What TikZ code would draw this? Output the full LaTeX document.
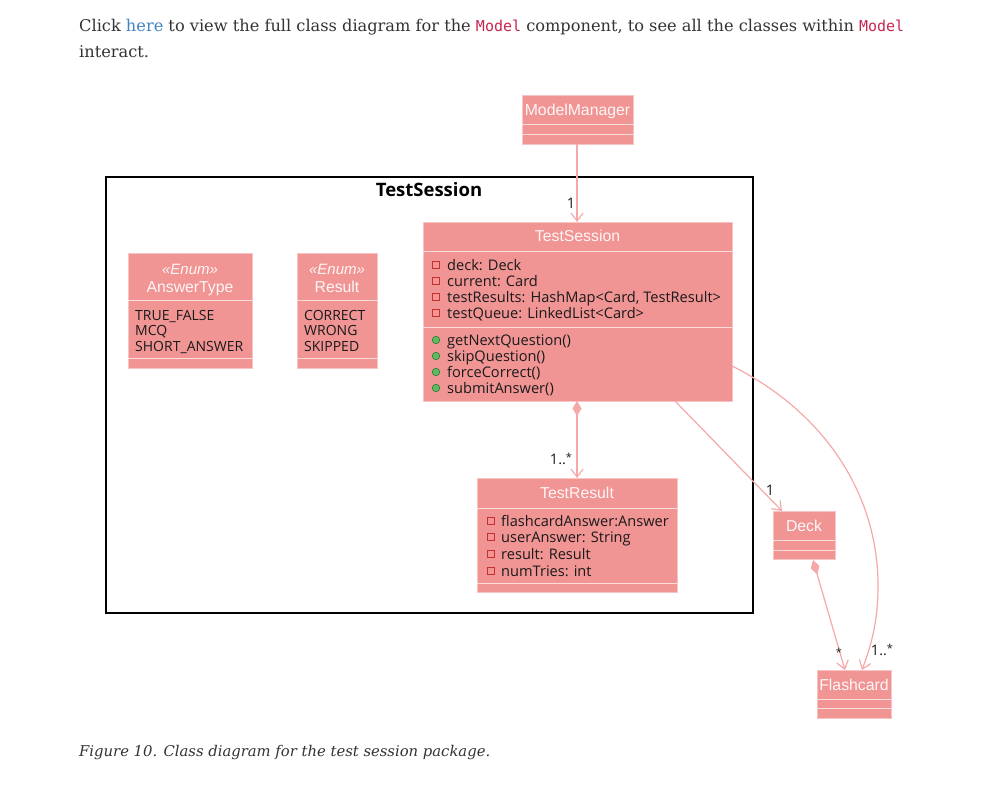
\documentclass[tikz,border=0pt]{standalone}
\usepackage{fontspec}
\setmainfont{DejaVu Serif}
\setmonofont{DejaVu Sans Mono}
\newfontfamily\hdrfont{Liberation Sans}
\newfontfamily\memfont{Open Sans}
\usetikzlibrary{arrows.meta}
\definecolor{clsfill}{HTML}{F09494}
\definecolor{clsborder}{HTML}{F7C4C4}
\definecolor{clssep}{HTML}{FCDCDC}
\definecolor{arrowc}{HTML}{F4A8A8}
\definecolor{privc}{HTML}{C63030}
\definecolor{pubfill}{HTML}{5DBB63}
\definecolor{publine}{HTML}{2E7D32}
\definecolor{linkblue}{HTML}{4183C4}
\definecolor{codered}{HTML}{C7254E}
\definecolor{bodytext}{HTML}{333333}
\definecolor{memtext}{HTML}{1A1A1A}
\tikzset{
  x=1pt, y=-1pt,
  clsbox/.style={draw=clsborder, fill=clsfill, line width=0.8pt, inner sep=0pt, anchor=north west},
  sepline/.style={draw=clssep, line width=1pt},
  hdr/.style={text=white!92!clsfill, font=\hdrfont\fontsize{15.8}{18}\selectfont, anchor=base, inner sep=0pt},
  stereo/.style={text=white!92!clsfill, font=\hdrfont\itshape\fontsize{15}{17}\selectfont, anchor=base, inner sep=0pt},
  mem/.style={text=memtext, font=\memfont\fontsize{14.6}{16}\selectfont, anchor=base west, inner sep=0pt},
  enumitem/.style={text=memtext, font=\memfont\fontsize{14}{16}\selectfont, anchor=base west, inner sep=0pt},
  privicon/.style={draw=privc, line width=0.8pt, minimum size=7.5pt, inner sep=0pt},
  pubicon/.style={draw=publine, fill=pubfill, circle, line width=0.6pt, minimum size=7.5pt, inner sep=0pt},
  conn/.style={draw=arrowc, line width=1.2pt},
  openarrow/.style={-{Straight Barb[length=8pt,width=12pt,line width=1.2pt]}},
  diamondarrow/.style={{Diamond[length=15pt,width=9pt]}-{Straight Barb[length=8pt,width=12pt,line width=1.2pt]}},
  mult/.style={text=memtext, font=\memfont\fontsize{14.5}{16}\selectfont, anchor=base, inner sep=0pt},
  pkgbox/.style={draw=black, line width=1.3pt},
  pkgtitle/.style={font=\memfont\bfseries\fontsize{18.5}{20}\selectfont, anchor=base, inner sep=0pt}
}
\begin{document}
\begin{tikzpicture}
\useasboundingbox (0,0) rectangle (989,787);
% top paragraph
\node[anchor=base west, inner sep=0pt, text=bodytext, font=\fontsize{16.2}{20}\selectfont] (para1) at (79,31)
  {Click \textcolor{linkblue}{here} to view the full class diagram for the {\ttfamily\fontsize{15}{18}\selectfont\textcolor{codered}{Model}} component, to see all the classes within {\ttfamily\fontsize{15}{18}\selectfont\textcolor{codered}{Model}}};
\node[anchor=base west, inner sep=0pt, text=bodytext, font=\fontsize{16.2}{20}\selectfont] (para2) at (79,57) {interact.};

% package frame
\draw[pkgbox] (106,177) rectangle (753,613);
\node[pkgtitle] (pkgt) at (429,196) {TestSession};

% ModelManager
\node[clsbox, minimum width=111pt, minimum height=49pt] (mm) at (522,95) {};
\draw[sepline] (522,124) -- (633,124);
\draw[sepline] (522,134) -- (633,134);
\node[hdr] (mmname) at (577.5,115) {ModelManager};

% TestSession class
\node[clsbox, minimum width=309pt, minimum height=179pt] (ts) at (423,222) {};
\draw[sepline] (423,251) -- (732,251);
\draw[sepline] (423,327) -- (732,327);
\node[hdr] (tsname) at (577.5,241) {TestSession};
\foreach \yy/\txt [count=\i] in {270/{deck: Deck},286/{current: Card},302/{testResults: HashMap<Card, TestResult>},318/{testQueue: LinkedList<Card>}}{
  \node[privicon] (tsa\i) at (436,\yy-5) {};
  \node[mem] (tsat\i) at (447,\yy) {\txt};
}
\foreach \yy/\txt [count=\i] in {345/{getNextQuestion()},361/{skipQuestion()},377/{forceCorrect()},393/{submitAnswer()}}{
  \node[pubicon] (tsm\i) at (436,\yy-5) {};
  \node[mem] (tsmt\i) at (447,\yy) {\txt};
}

% AnswerType enum
\node[clsbox, minimum width=124pt, minimum height=115pt] (at) at (128,253) {};
\draw[sepline] (128,300) -- (252,300);
\draw[sepline] (128,358) -- (252,358);
\node[stereo] (atst) at (190,274) {«Enum»};
\node[hdr] (atname) at (190,292) {AnswerType};
\node[enumitem] (at1) at (135,320) {TRUE\_FALSE};
\node[enumitem] (at2) at (135,335) {MCQ};
\node[enumitem] (at3) at (135,351) {SHORT\_ANSWER};

% Result enum
\node[clsbox, minimum width=80pt, minimum height=115pt] (rs) at (297,253) {};
\draw[sepline] (297,300) -- (377,300);
\draw[sepline] (297,358) -- (377,358);
\node[stereo] (rsst) at (337,274) {«Enum»};
\node[hdr] (rsname) at (337,292) {Result};
\node[enumitem] (rs1) at (304,320) {CORRECT};
\node[enumitem] (rs2) at (304,335) {WRONG};
\node[enumitem] (rs3) at (304,351) {SKIPPED};

% TestResult class
\node[clsbox, minimum width=200pt, minimum height=114pt] (tr) at (477,478) {};
\draw[sepline] (477,508) -- (677,508);
\draw[sepline] (477,583) -- (677,583);
\node[hdr] (trname) at (577,498) {TestResult};
\foreach \yy/\txt [count=\i] in {526/{flashcardAnswer:Answer},542/{userAnswer: String},559/{result: Result},576/{numTries: int}}{
  \node[privicon] (tra\i) at (491,\yy-5) {};
  \node[mem] (trat\i) at (501,\yy) {\txt};
}

% Deck
\node[clsbox, minimum width=62pt, minimum height=48pt] (dk) at (773,511) {};
\draw[sepline] (773,540) -- (835,540);
\draw[sepline] (773,550) -- (835,550);
\node[hdr] (dkname) at (804,531) {Deck};

% Flashcard
\node[clsbox, minimum width=74pt, minimum height=48pt] (fc) at (817,670) {};
\draw[sepline] (817,699) -- (891,699);
\draw[sepline] (817,708) -- (891,708);
\node[hdr] (fcname) at (854,690) {Flashcard};

% connectors
\coordinate (mmB) at (577,144);
\coordinate (tsT) at (577,222);
\draw[conn, openarrow] (mmB) -- (tsT);
\node[mult] (m1) at (571,208) {1};

\coordinate (tsB) at (577,401);
\coordinate (trT) at (577,478);
\draw[conn, diamondarrow] (tsB) -- (trT);
\node[mult] (m2) at (561,464) {1..\raisebox{3pt}{\fontsize{11}{11}\selectfont *}};

\coordinate (tsB2) at (675,401);
\coordinate (dkT) at (782,511);
\draw[conn, openarrow] (tsB2) -- (dkT);
\node[mult] (m3) at (770,495) {1};

\coordinate (dkB) at (813,560);
\coordinate (fcT1) at (845,670);
\draw[conn, diamondarrow] (dkB) -- (fcT1);
\node[mult] (m4) at (839,656) {\fontsize{11}{11}\selectfont *};

\coordinate (tsR) at (732,366);
\coordinate (fcT2) at (862,670);
\draw[conn, openarrow] (tsR) .. controls (830,415) and (878,500) .. (878,585) .. controls (878,625) and (870,648) .. (fcT2);
\node[mult] (m5) at (882,655) {1..\raisebox{3pt}{\fontsize{11}{11}\selectfont *}};

% caption
\node[anchor=base west, inner sep=0pt, text=bodytext, font=\itshape\fontsize{14.8}{18}\selectfont] (cap) at (79,756) {Figure 10. Class diagram for the test session package.};
\end{tikzpicture}
\end{document}
